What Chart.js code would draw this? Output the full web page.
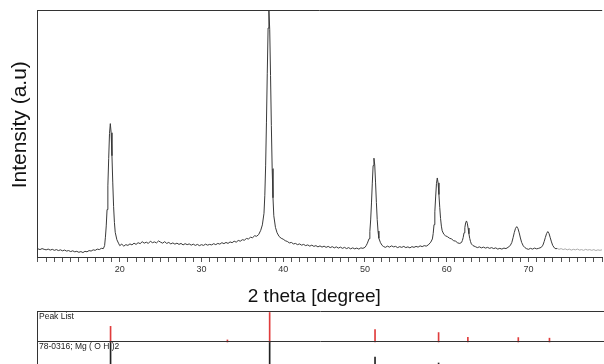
<!DOCTYPE html>
<html>
<head>
<meta charset="utf-8">
<script src="https://cdn.jsdelivr.net/npm/chart.js@4.4.1/dist/chart.umd.min.js"></script>
<style>
  html, body { margin: 0; padding: 0; overflow: hidden; background: #fff; }
  #wrap { position: relative; width: 604px; height: 364px; overflow: hidden; }
  canvas { position: absolute; left: 0; }
</style>
</head>
<body>
<div id="wrap">
  <canvas id="xrd" width="604" height="308" style="top:0"></canvas>
  <canvas id="sticks" width="604" height="70" style="top:302px"></canvas>
</div>
<script>
// measured pattern, 2theta (deg) / intensity (a.u., 0-100)
var twoTheta = [
	10, 10.25, 10.5, 10.75, 11, 11.25, 11.5, 11.75, 12, 12.25, 12.5, 12.75,
	13, 13.25, 13.5, 13.75, 14, 14.25, 14.5, 14.75, 15, 15.25, 15.5, 15.75,
	16, 16.25, 16.5, 16.75, 17, 17.25, 17.5, 17.75, 18, 18.15,
	18.25, 18.35, 18.45, 18.55, 18.65, 18.75, 18.85, 18.95, 19.05, 19.15, 19.25, 19.35, 19.45, 19.65, 19.85,
	20, 20.25, 20.5, 20.75, 21, 21.25, 21.5, 21.75, 22, 22.25, 22.5, 22.75,
	23, 23.25, 23.5, 23.75, 24, 24.25, 24.5, 24.75, 25, 25.25, 25.5, 25.75,
	26, 26.25, 26.5, 26.75, 27, 27.25, 27.5, 27.75, 28, 28.25, 28.5, 28.75,
	29, 29.25, 29.5, 29.75, 30, 30.25, 30.5, 30.75, 31, 31.25, 31.5, 31.75,
	32, 32.25, 32.5, 32.75, 33, 33.25, 33.5, 33.75, 34, 34.25, 34.5, 34.75,
	35, 35.25, 35.5, 35.75, 36, 36.25, 36.5, 36.75, 37,
	37.25, 37.45, 37.65, 37.75, 37.85, 37.95, 38.05, 38.15, 38.25, 38.35, 38.45, 38.55, 38.65, 38.75, 38.85, 39.05, 39.25,
	39.5, 39.75, 40, 40.25, 40.5, 40.75, 41, 41.25, 41.5, 41.75, 42, 42.25,
	42.5, 42.75, 43, 43.25, 43.5, 43.75, 44, 44.25, 44.5, 44.75, 45, 45.25,
	45.5, 45.75, 46, 46.25, 46.5, 46.75, 47, 47.25, 47.5, 47.75, 48, 48.25,
	48.5, 48.75, 49, 49.25, 49.5, 49.75, 50, 50.15,
	50.3, 50.5, 50.6, 50.7, 50.8, 50.9, 51, 51.1, 51.2, 51.3, 51.4, 51.5, 51.6, 51.7, 51.9, 52.1,
	52.25, 52.5, 52.75, 53, 53.25, 53.5, 53.75, 54, 54.25, 54.5, 54.75, 55,
	55.25, 55.5, 55.75, 56, 56.25, 56.5, 56.75, 57, 57.25, 57.5, 57.75,
	58.05, 58.25, 58.35, 58.45, 58.55, 58.65, 58.75, 58.85, 58.95, 59.05, 59.15, 59.25, 59.35, 59.45, 59.65, 59.85,
	60.1, 60.35, 60.6, 60.85, 61.1, 61.35, 61.6,
	61.82, 61.92, 62.02, 62.12, 62.22, 62.32, 62.42, 62.52, 62.62, 62.72, 62.82, 62.92, 63.02, 63.22,
	63.5, 63.75, 64, 64.25, 64.5, 64.75, 65, 65.25, 65.5, 65.75, 66, 66.25, 66.5, 66.75, 67, 67.25, 67.5, 67.65,
	67.77, 67.97, 68.12, 68.27, 68.42, 68.57, 68.72, 68.87, 69.02, 69.17, 69.37, 69.57,
	69.75, 70, 70.25, 70.5, 70.75, 71, 71.25,
	71.57, 71.77, 71.92, 72.07, 72.22, 72.37, 72.52, 72.67, 72.82, 72.97, 73.17, 73.37,
	73.5, 73.75, 74, 74.25, 74.5, 74.75, 75, 75.25, 75.5, 75.75, 76, 76.25,
	76.5, 76.75, 77, 77.25, 77.5, 77.75, 78, 78.25, 78.5, 78.75, 79
];
var intensity = [
	3.3, 3.0, 3.4, 3.1, 2.9, 3.2, 2.8, 3.1, 2.7, 3.0, 2.6, 2.9,
	2.5, 2.8, 2.4, 2.6, 2.2, 2.5, 2.1, 2.3, 1.9, 2.2, 1.8, 2.3,
	2.1, 2.6, 2.4, 2.9, 2.7, 3.2, 3.0, 3.5, 3.4, 4.6,
	8.0, 12.6, 19.2, 28.8, 39.9, 50.0, 54.0, 50.3, 41.0, 30.0, 20.5, 14.0, 10.0, 7.0, 5.6,
	4.6, 5.2, 4.4, 5.0, 4.7, 5.3, 4.9, 5.6, 5.1, 5.8, 5.4, 6.2,
	5.6, 6.0, 5.5, 6.4, 5.8, 6.1, 5.7, 6.5, 6.0, 5.6, 6.2, 5.5,
	5.9, 5.3, 5.7, 5.2, 5.6, 5.1, 5.5, 4.9, 5.4, 5.0, 5.3, 4.8,
	5.2, 4.7, 5.1, 4.6, 5.0, 4.7, 5.2, 4.8, 5.1, 4.9, 5.4, 5.0,
	5.5, 5.2, 5.8, 5.4, 5.9, 5.5, 6.1, 5.8, 6.4, 6.0, 6.7, 6.4,
	7.0, 6.8, 7.5, 7.3, 8.0, 7.8, 8.6, 8.4, 9.1,
	10.8, 13.0, 17.7, 25.0, 36.9, 54.3, 74.4, 92.7, 100, 92.0, 73.5, 53.2, 35.8, 24.0, 16.7, 12.0, 9.8,
	8.3, 7.6, 7.2, 6.6, 6.3, 5.7, 5.9, 5.3, 5.5, 5.0, 5.3, 4.8,
	5.1, 4.6, 4.9, 4.4, 4.8, 4.3, 4.6, 4.1, 4.5, 4.0, 4.4, 3.9,
	4.3, 3.8, 4.2, 3.7, 4.1, 3.6, 4.0, 3.5, 3.9, 3.4, 3.8, 3.3,
	3.7, 3.3, 3.6, 3.2, 3.7, 3.5, 3.9, 4.6,
	5.6, 7.4, 10.3, 15.0, 21.9, 29.9, 37.0, 40.0, 37.2, 30.0, 22.0, 15.2, 10.5, 7.6, 5.8, 4.7,
	4.3, 3.9, 4.4, 4.0, 4.5, 4.1, 4.3, 3.8, 4.2, 3.9, 4.3, 3.8,
	4.1, 3.7, 4.2, 3.9, 4.3, 4.0, 4.5, 4.2, 4.6, 4.4, 4.9,
	6.0, 7.3, 9.5, 13.1, 18.3, 24.3, 29.8, 32.0, 30.0, 25.3, 20.1, 15.6, 12.5, 10.6, 9.2, 8.6,
	8.2, 7.6, 7.3, 6.6, 6.4, 5.7, 5.5,
	5.9, 6.7, 7.9, 9.8, 11.9, 13.8, 14.6, 13.7, 11.7, 9.4, 7.5, 6.2, 5.3, 4.6,
	4.2, 3.8, 4.1, 3.7, 4.0, 3.6, 3.9, 3.5, 3.8, 3.4, 3.7, 3.2, 3.5, 3.2, 3.6, 3.4, 3.9, 4.3,
	4.6, 5.9, 7.8, 9.9, 11.6, 12.3, 11.5, 9.8, 7.7, 5.9, 4.5, 3.8,
	3.4, 3.1, 3.5, 3.2, 3.6, 3.3, 3.5,
	3.9, 4.8, 6.2, 7.9, 9.5, 10.3, 9.5, 7.8, 6.1, 4.7, 3.7, 3.3,
	3.5, 3.1, 3.4, 3.0, 3.3, 2.9, 3.2, 2.8, 3.1, 2.9, 3.2, 2.8,
	3.0, 2.7, 3.1, 2.8, 3.0, 2.7, 3.0, 2.6, 2.9, 2.7, 2.9
];

// stick patterns (relative heights, 0-100)
var stickPositions = [18.85, 33.1, 38.25, 51.1, 58.85, 62.42, 68.57, 72.37];
var peakListHeights = [53, 7, 100, 42, 32, 16, 15, 13];
var referenceHeights = [100, 6, 100, 50, 30, 15, 12, 10];

var xTickLabels = [20, 30, 40, 50, 60, 70];
var xMin = 9.88, xMax = 79.02;

var font = "Arial, 'Liberation Sans', sans-serif";

var topLine = {
	id: "topLine",
	afterDraw: function (chart) {
		var a = chart.chartArea, ctx = chart.ctx;
		ctx.save();
		ctx.strokeStyle = "#333";
		ctx.lineWidth = 1;
		ctx.beginPath();
		ctx.moveTo(a.left, Math.round(a.top) + 0.5);
		ctx.lineTo(a.right, Math.round(a.top) + 0.5);
		ctx.stroke();
		ctx.restore();
	},
};

new Chart(document.getElementById("xrd").getContext("2d"), {
	type: "line",
	data: {
		datasets: [
			{
				data: twoTheta.map((t, i) => ({ x: t, y: intensity[i] })),
				borderColor: "#3a3a3a",
				borderWidth: 1,
				pointRadius: 0,
				tension: 0,
				segment: {
					borderColor: (c) => (c.p0.parsed.x > 73.4 ? "#aaa" : undefined),
				},
			},
		],
	},
	options: {
		responsive: false,
		animation: false,
		layout: { padding: { top: 10, left: 0, right: 0, bottom: 0 } },
		plugins: { legend: { display: false }, tooltip: { enabled: false } },
		scales: {
			x: {
				type: "linear",
				min: xMin,
				max: xMax,
				ticks: {
					stepSize: 1,
					autoSkip: false,
					maxRotation: 0,
					includeBounds: false,
					font: { family: font, size: 9 },
					color: "#333",
					padding: 2,
					callback: (v) => (xTickLabels.includes(v) ? String(v) : ""),
				},
				grid: { drawOnChartArea: false, tickLength: 5, color: "#555" },
				border: { color: "#333" },
				title: {
					display: true,
					text: "2 theta [degree]  ",
					font: { family: font, size: 19 },
					color: "#111",
					padding: 0,
				},
				afterFit: (s) => { s.height = 51; },
			},
			y: {
				min: 0,
				max: 100,
				ticks: { display: false },
				grid: { display: false },
				border: { color: "#333" },
				title: {
					display: true,
					text: "   Intensity (a.u)",
					font: { family: font, size: 21 },
					color: "#111",
					padding: { top: 8, bottom: 0 },
				},
				afterFit: (s) => { s.width = 37; },
			},
		},
	},
	plugins: [topLine],
});

var panes = {
	id: "panes",
	afterDraw: function (chart) {
		var a = chart.chartArea, ctx = chart.ctx;
		var mid = Math.round(chart.scales.y.getPixelForValue(30)) - 0.5;
		var top = Math.round(a.top) - 0.5;
		ctx.save();
		ctx.strokeStyle = "#333";
		ctx.lineWidth = 1;
		ctx.beginPath();
		ctx.moveTo(a.left, top); ctx.lineTo(a.right, top);
		ctx.moveTo(a.left, mid); ctx.lineTo(a.right, mid);
		ctx.moveTo(Math.round(a.left) + 0.5, top); ctx.lineTo(Math.round(a.left) + 0.5, a.bottom);
		ctx.stroke();
		ctx.fillStyle = "#222";
		ctx.font = "8.5px " + font;
		ctx.textBaseline = "middle";
		ctx.fillText("Peak List", a.left + 2, top + 5);
		ctx.fillText("78-0316; Mg ( O H )2", a.left + 2, mid + 5);
		ctx.restore();
	},
};

new Chart(document.getElementById("sticks").getContext("2d"), {
	type: "bar",
	data: {
		datasets: [
			{
				data: stickPositions.map((p, i) => ({ x: p, y: [30, 30 + peakListHeights[i] * 0.295] })),
				backgroundColor: "#e03c3c",
				barThickness: 1,
				grouped: false,
			},
			{
				data: stickPositions.map((p, i) => ({ x: p, y: [0, referenceHeights[i] * 0.3] })),
				backgroundColor: "#222",
				barThickness: 1,
				grouped: false,
			},
		],
	},
	options: {
		responsive: false,
		animation: false,
		layout: { padding: { top: 10, left: 0, right: 0, bottom: 0 } },
		plugins: { legend: { display: false }, tooltip: { enabled: false } },
		scales: {
			x: { type: "linear", min: xMin, max: xMax, offset: false, display: false },
			y: {
				min: 0,
				max: 60,
				ticks: { display: false },
				grid: { display: false },
				border: { display: false },
				afterFit: (s) => { s.width = 37; },
			},
		},
	},
	plugins: [panes],
});
</script>
</body>
</html>
